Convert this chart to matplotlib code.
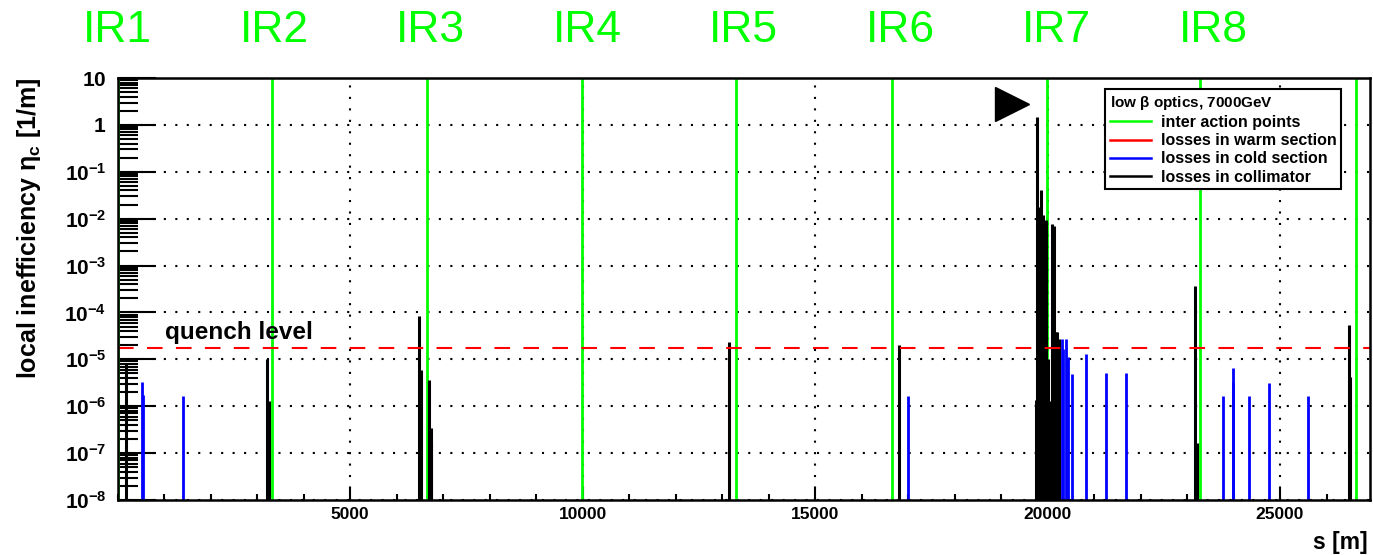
import matplotlib
matplotlib.use('Agg')
import matplotlib.pyplot as plt
from matplotlib.lines import Line2D
from matplotlib.ticker import FixedLocator, MultipleLocator, FuncFormatter, NullFormatter
import numpy as np

plt.rcParams['font.family'] = ['Liberation Sans', 'DejaVu Sans']
plt.rcParams['font.weight'] = 'bold'
plt.rcParams['mathtext.fontset'] = 'custom'
plt.rcParams['mathtext.rm'] = 'Liberation Sans'
plt.rcParams['mathtext.bf'] = 'Liberation Sans:bold'
plt.rcParams['mathtext.it'] = 'Liberation Sans:italic'

# interaction points (green lines) and their labels
ir_s = [0, 3329, 6662, 9989, 13301, 16649, 19983, 23286, 26624]
ir_names = ['IR1', 'IR2', 'IR3', 'IR4', 'IR5', 'IR6', 'IR7', 'IR8']

# losses in collimators [s in m, local inefficiency in 1/m]
coll_s = [183, 3209, 3252, 6484, 6527, 6705, 6735, 6748, 13157, 16806,
          19753, 19781, 19824, 19860, 19903, 19968, 20005, 20047, 20099,
          20133, 20172, 20206, 20240, 23179, 23215, 26480, 26512]
coll_eta = [8.2e-6, 1.0e-5, 1.3e-6, 8.6e-5, 5.8e-6, 3.7e-6, 3.4e-7, 1.7e-7,
            2.3e-5, 2.0e-5,
            1.35e-6, 1.45, 1.78e-2, 4.0e-2, 1.2e-2, 9.3e-3, 1.0e-5, 1.3e-6,
            7.7e-3, 7.0e-3, 3.9e-5, 3.9e-5, 2.7e-5, 3.6e-4, 1.66e-7,
            5.5e-5, 4.2e-6]

# losses in warm section
warm_s = [19849]
warm_eta = [1.7e-6]

# losses in cold section
cold_s = [532, 540, 1402, 16999, 20254, 20305, 20340, 20398, 20434, 20527,
          20834, 21258, 21695, 23780, 23990, 23999, 24327, 24763, 25609]
cold_eta = [3.3e-6, 1.7e-6, 1.66e-6, 1.65e-6, 1.36e-5, 2.7e-5, 1.7e-5,
            2.7e-5, 1.1e-5, 4.9e-6, 1.3e-5, 5.0e-6, 5.0e-6, 1.66e-6,
            6.6e-6, 3.3e-6, 1.66e-6, 3.2e-6, 1.66e-6]

quench_level = 1.74e-5
beam_dir_s = 19237
beam_dir_eta = 2.73

s_ticks = [5000, 10000, 15000, 20000, 25000]
eta_decades = [1e-8, 1e-7, 1e-6, 1e-5, 1e-4, 1e-3, 1e-2, 1e-1, 1, 10]
s_max = 26935
eta_min = 1e-8
eta_max = 10


def fmt_log(v, pos):
    if v >= 10:
        return r'$\mathbf{10}$'
    if v >= 1:
        return r'$\mathbf{1}$'
    n = int(round(np.log10(v)))
    return r'$\mathbf{10^{%d}}$' % n


fig = plt.figure(figsize=(13.73, 5.55), dpi=100)
ax = fig.add_axes([117.5 / 1373, 55 / 555, 1252.5 / 1373, 422 / 555])

for s in ir_s:
    ax.axvline(s, color='#00ff00', lw=2.0, zorder=2)

ax.vlines(cold_s, eta_min, cold_eta, color='#0000ff', lw=2.0, zorder=3)
ax.vlines(warm_s, eta_min, warm_eta, color='#ff0000', lw=2.0, zorder=3)
ax.vlines(coll_s, eta_min, coll_eta, color='black', lw=2.2, zorder=4)

ax.axhline(quench_level, color='#ff0000', lw=1.5, ls=(0, (7.5, 6.4)), zorder=5)
ax.text(1020, 2.67e-5, 'quench level', fontsize=17.5, fontweight='bold',
        va='baseline', ha='left', zorder=6)

ax.plot([beam_dir_s], [beam_dir_eta], marker='>', color='black',
        markersize=24.5, ls='none', zorder=6)

ax.set_yscale('log')
ax.set_xlim(0, s_max)
ax.set_ylim(eta_min, eta_max)

minor_eta = [d * m for d in eta_decades[:-1] for m in range(2, 10)]
ax.xaxis.set_major_locator(FixedLocator(s_ticks))
ax.xaxis.set_minor_locator(MultipleLocator(1000))
ax.yaxis.set_major_locator(FixedLocator(eta_decades))
ax.yaxis.set_minor_locator(FixedLocator(minor_eta))
ax.yaxis.set_major_formatter(FuncFormatter(fmt_log))
ax.yaxis.set_minor_formatter(NullFormatter())
ax.xaxis.set_major_formatter(FuncFormatter(lambda v, p: '%d' % v))

ax.tick_params(axis='x', which='major', direction='in', length=9.5, width=1.5,
               labelsize=12.5, pad=5)
ax.tick_params(axis='x', which='minor', direction='in', length=4.5, width=1.5)
ax.tick_params(axis='y', which='major', direction='in', length=27, width=1.5,
               labelsize=15, pad=8)
ax.tick_params(axis='y', which='minor', direction='in', length=14.5, width=1.5)
for lab in ax.get_xticklabels():
    lab.set_fontweight('bold')

ax.grid(which='major', color='black', ls=(0, (1, 4.5)), lw=1.5, zorder=1)
for sp in ax.spines.values():
    sp.set_linewidth(1.8)
    sp.set_zorder(7)

handles = [Line2D([], [], color='#00ff00', lw=1.8),
           Line2D([], [], color='#ff0000', lw=1.8),
           Line2D([], [], color='#0000ff', lw=1.8),
           Line2D([], [], color='black', lw=1.8)]
labels = ['inter action points', 'losses in warm section',
          'losses in cold section', 'losses in collimator']
leg = ax.legend(handles, labels, title=r'low $\mathrm{\beta}$ optics, 7000GeV',
                loc='upper left', bbox_to_anchor=(1105 / 1373, (555 - 89) / 555),
                bbox_transform=fig.transFigure, borderaxespad=0, fancybox=False,
                framealpha=1, edgecolor='black', prop={'size': 11.5, 'weight': 'bold'},
                title_fontproperties={'size': 11, 'weight': 'bold'},
                alignment='left', handlelength=2.6, handletextpad=0.6,
                labelspacing=0.2, borderpad=0.3)
leg.get_frame().set_linewidth(1.5)
leg.set_zorder(10)

for i, name in enumerate(ir_names):
    fig.text((117.5 + i * 1252.5 / 8) / 1373, (555 - 42) / 555, name,
             color='#00ff00', fontsize=32, fontweight='normal',
             ha='center', va='baseline')

fig.text(29 / 1373, (555 - 77) / 555,
         r'local inefficiency $\mathrm{\eta}_{\mathbf{c}}$ [1/m]',
         rotation=90, ha='center', va='top', fontsize=18, fontweight='bold')
fig.text(1368 / 1373, 1 / 555, 's [m]', ha='right', va='bottom',
         fontsize=16.5, fontweight='bold')

fig.savefig('out.png', dpi=100)
